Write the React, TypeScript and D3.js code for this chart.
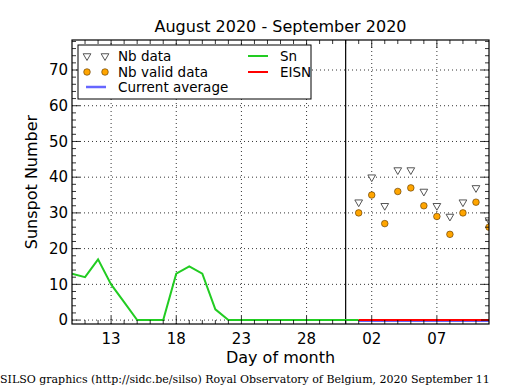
import { useEffect, useRef } from "react";
import * as d3 from "d3";

// days counted from August 1 (32 = September 1)
const snDays = [10, 11, 12, 13, 14, 15, 16, 17, 18, 19, 20, 21, 22, 23, 24, 25, 26, 27, 28, 29, 30, 31, 32];
const snValues = [13, 12, 17, 10, 5, 0, 0, 0, 13, 15, 13, 3, 0, 0, 0, 0, 0, 0, 0, 0, 0, 0, 0];

const pointDays = [32, 33, 34, 35, 36, 37, 38, 39, 40, 41, 42];
const nbData = [33, 40, 32, 42, 42, 36, 32, 29, 33, 37, 28];
const nbValid = [30, 35, 27, 36, 37, 32, 29, 24, 30, 33, 26];
const eisnValues = [0, 0, 0, 0, 0, 0, 0, 0, 0, 0, 0];
const currentAverage = [0, 0, 0, 0, 0, 0, 0, 0, 0, 0, 0];

const xTicks = [13, 18, 23, 28, 33, 38];
const yTicks = [0, 10, 20, 30, 40, 50, 60, 70];
const monthBoundary = 31;

const W = 515;
const H = 390;
const margin = { left: 72, right: 26, top: 40, bottom: 66 };
const FONT = "DejaVu Sans, sans-serif";

const App = () => {
  const ref = useRef<SVGSVGElement | null>(null);

  useEffect(() => {
    const svg = d3.select(ref.current);
    svg.selectAll("*").remove();

    const x0 = margin.left;
    const x1 = W - margin.right;
    const y0 = H - margin.bottom;
    const y1 = margin.top;

    const x = d3.scaleLinear().domain([10, 42]).range([x0, x1]);
    const y = d3.scaleLinear().domain([-1.1, 78.4]).range([y0, y1]);

    svg.append("rect").attr("width", W).attr("height", H).attr("fill", "white");

    const clip = svg.append("clipPath").attr("id", "plotclip");
    clip.append("rect").attr("x", x0).attr("y", y1).attr("width", x1 - x0).attr("height", y0 - y1);

    // grid
    const grid = svg.append("g").attr("stroke", "black").attr("stroke-width", 0.8).attr("stroke-dasharray", "1,3");
    xTicks.forEach((t) => {
      grid.append("line").attr("x1", x(t)).attr("x2", x(t)).attr("y1", y0).attr("y2", y1);
    });
    yTicks.forEach((t) => {
      grid.append("line").attr("x1", x0).attr("x2", x1).attr("y1", y(t)).attr("y2", y(t));
    });

    const plot = svg.append("g").attr("clip-path", "url(#plotclip)");

    // month boundary
    plot
      .append("line")
      .attr("x1", x(monthBoundary))
      .attr("x2", x(monthBoundary))
      .attr("y1", y0)
      .attr("y2", y1)
      .attr("stroke", "black")
      .attr("stroke-width", 1.2);

    const line = d3
      .line<[number, number]>()
      .x((d) => x(d[0]))
      .y((d) => y(d[1]));

    plot
      .append("path")
      .attr("d", line(snDays.map((d, i) => [d, snValues[i]])))
      .attr("fill", "none")
      .attr("stroke", "#22cc22")
      .attr("stroke-width", 2);

    plot
      .append("path")
      .attr("d", line(pointDays.map((d, i) => [d, currentAverage[i]])))
      .attr("fill", "none")
      .attr("stroke", "#6666ff")
      .attr("stroke-width", 2)
      .attr("transform", "translate(0,1)");

    plot
      .append("path")
      .attr("d", line(pointDays.map((d, i) => [d, eisnValues[i]])))
      .attr("fill", "none")
      .attr("stroke", "#ff0000")
      .attr("stroke-width", 2);

    const tri = d3.symbol().type(d3.symbolTriangle).size(26);
    plot
      .selectAll("path.tri")
      .data(pointDays)
      .join("path")
      .attr("class", "tri")
      .attr("d", tri)
      .attr("transform", (d, i) => `translate(${x(d)},${y(nbData[i])}) rotate(180)`)
      .attr("fill", "white")
      .attr("stroke", "#555")
      .attr("stroke-width", 1);

    plot
      .selectAll("circle.valid")
      .data(pointDays)
      .join("circle")
      .attr("class", "valid")
      .attr("cx", (d) => x(d))
      .attr("cy", (_, i) => y(nbValid[i]))
      .attr("r", 3.3)
      .attr("fill", "#ffa500")
      .attr("stroke", "#553300")
      .attr("stroke-width", 0.6);

    // ticks, inward on all sides
    const ticks = svg.append("g").attr("stroke", "black").attr("stroke-width", 0.8);
    d3.range(11, 42).forEach((d) => {
      const len = xTicks.includes(d) ? 8 : 4;
      ticks.append("line").attr("x1", x(d)).attr("x2", x(d)).attr("y1", y0).attr("y2", y0 - len);
      ticks.append("line").attr("x1", x(d)).attr("x2", x(d)).attr("y1", y1).attr("y2", y1 + len);
    });
    d3.range(0, 79, 2).forEach((v) => {
      const len = v % 10 === 0 ? 8 : 4;
      ticks.append("line").attr("x1", x0).attr("x2", x0 + len).attr("y1", y(v)).attr("y2", y(v));
      ticks.append("line").attr("x1", x1).attr("x2", x1 - len).attr("y1", y(v)).attr("y2", y(v));
    });

    svg
      .append("rect")
      .attr("x", x0)
      .attr("y", y1)
      .attr("width", x1 - x0)
      .attr("height", y0 - y1)
      .attr("fill", "none")
      .attr("stroke", "black")
      .attr("stroke-width", 1.2);

    // tick labels
    svg
      .append("g")
      .selectAll("text")
      .data(xTicks)
      .join("text")
      .attr("x", (d) => x(d))
      .attr("y", y0 + 20)
      .attr("text-anchor", "middle")
      .attr("font-family", FONT)
      .attr("font-size", 15)
      .text((d) => d3.format("02d")(d > 31 ? d - 31 : d));

    svg
      .append("g")
      .selectAll("text")
      .data(yTicks)
      .join("text")
      .attr("x", x0 - 4)
      .attr("y", (d) => y(d))
      .attr("dy", "0.35em")
      .attr("text-anchor", "end")
      .attr("font-family", FONT)
      .attr("font-size", 15)
      .text((d) => String(d));

    svg
      .append("text")
      .attr("x", (x0 + x1) / 2)
      .attr("y", 32)
      .attr("text-anchor", "middle")
      .attr("font-family", FONT)
      .attr("font-size", 16)
      .text("August 2020 - September 2020");

    svg
      .append("text")
      .attr("x", (x0 + x1) / 2)
      .attr("y", 363)
      .attr("text-anchor", "middle")
      .attr("font-family", FONT)
      .attr("font-size", 16)
      .text("Day of month");

    svg
      .append("text")
      .attr("transform", `translate(37,${(y0 + y1) / 2}) rotate(-90)`)
      .attr("text-anchor", "middle")
      .attr("font-family", FONT)
      .attr("font-size", 16)
      .text("Sunspot Number");

    svg
      .append("text")
      .attr("x", 0)
      .attr("y", 383)
      .attr("font-family", "DejaVu Serif, serif")
      .attr("font-size", 11)
      .text("SILSO graphics (http://sidc.be/silso) Royal Observatory of Belgium, 2020 September 11");

    // legend
    const lg = svg.append("g").attr("font-family", FONT).attr("font-size", 13.5);
    lg.append("rect")
      .attr("x", 78)
      .attr("y", 45)
      .attr("width", 233)
      .attr("height", 54)
      .attr("fill", "white")
      .attr("stroke", "black")
      .attr("stroke-width", 1);

    const rows = [56, 72, 87];
    [87, 105].forEach((cx) => {
      lg.append("path")
        .attr("d", tri)
        .attr("transform", `translate(${cx},${rows[0]}) rotate(180)`)
        .attr("fill", "white")
        .attr("stroke", "#555");
      lg.append("circle")
        .attr("cx", cx)
        .attr("cy", rows[1])
        .attr("r", 3.3)
        .attr("fill", "#ffa500")
        .attr("stroke", "#553300")
        .attr("stroke-width", 0.6);
    });
    lg.append("line").attr("x1", 86).attr("x2", 106).attr("y1", rows[2]).attr("y2", rows[2]).attr("stroke", "#6666ff").attr("stroke-width", 2.5);
    lg.append("line").attr("x1", 248).attr("x2", 268).attr("y1", rows[0]).attr("y2", rows[0]).attr("stroke", "#22cc22").attr("stroke-width", 2);
    lg.append("line").attr("x1", 248).attr("x2", 268).attr("y1", rows[1]).attr("y2", rows[1]).attr("stroke", "#ff0000").attr("stroke-width", 2);

    const labels: [number, number, string][] = [
      [118, rows[0], "Nb data"],
      [118, rows[1], "Nb valid data"],
      [118, rows[2], "Current average"],
      [280, rows[0], "Sn"],
      [280, rows[1], "EISN"],
    ];
    labels.forEach(([lx, ly, t]) => {
      lg.append("text").attr("x", lx).attr("y", ly).attr("dy", "0.35em").text(t);
    });
  }, []);

  return (
    <div style={{ position: "absolute", left: 0, top: 0 }}>
      <svg ref={ref} width={W} height={H} style={{ display: "block" }} />
    </div>
  );
};

export default App;
